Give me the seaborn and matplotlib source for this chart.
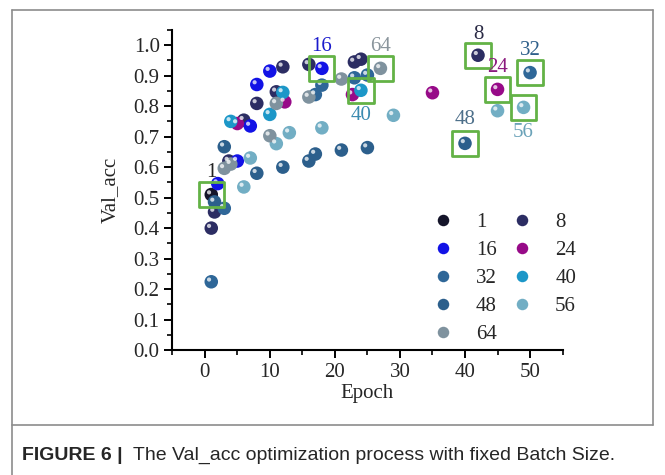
import pandas as pd
import matplotlib
matplotlib.use('Agg')
import matplotlib.pyplot as plt
import matplotlib.transforms as mtrans
from matplotlib.lines import Line2D
from matplotlib.ticker import MultipleLocator
import seaborn as sns

# Val_acc per epoch for each fixed batch size
epoch_1 = [1]
acc_1 = [0.51]
epoch_8 = [1, 1.5, 3.7, 6, 8, 11, 12, 16, 23, 24, 42]
acc_8 = [0.40, 0.453, 0.62, 0.754, 0.809, 0.847, 0.929, 0.937, 0.945, 0.954, 0.967]
epoch_16 = [2, 5, 7, 8, 10, 18]
acc_16 = [0.546, 0.62, 0.735, 0.871, 0.915, 0.924]
epoch_24 = [5, 12.3, 22.7, 35, 45]
acc_24 = [0.743, 0.814, 0.838, 0.844, 0.855]
epoch_32 = [1, 3, 17, 18, 23, 25, 50]
acc_32 = [0.224, 0.465, 0.838, 0.869, 0.893, 0.902, 0.91]
epoch_40 = [4, 10, 12, 24]
acc_40 = [0.75, 0.773, 0.845, 0.852]
epoch_48 = [1.5, 3, 8, 12, 16, 17, 21, 25, 40]
acc_48 = [0.486, 0.667, 0.58, 0.60, 0.62, 0.643, 0.656, 0.664, 0.678]
epoch_56 = [6, 7, 11, 13, 18, 29, 45, 49]
acc_56 = [0.535, 0.63, 0.677, 0.713, 0.729, 0.77, 0.785, 0.796]
epoch_64 = [3, 4, 10, 11, 16, 21, 27]
acc_64 = [0.596, 0.61, 0.703, 0.809, 0.83, 0.889, 0.924]

batch_sizes = [1, 8, 16, 24, 32, 40, 48, 56, 64]
epochs = [epoch_1, epoch_8, epoch_16, epoch_24, epoch_32, epoch_40, epoch_48, epoch_56, epoch_64]
accs = [acc_1, acc_8, acc_16, acc_24, acc_32, acc_40, acc_48, acc_56, acc_64]

colors = {1: '#15152a', 8: '#2c2d63', 16: '#1212e6', 24: '#970a88', 32: '#2f6798',
          40: '#1c97c8', 48: '#2c5f8c', 56: '#72aec4', 64: '#7f929e'}
label_colors = {1: '#222222', 8: '#2a2a45', 16: '#1a1acc', 24: '#8b1a7e', 32: '#2e5f8a',
                40: '#3a8bb0', 48: '#4d6f8a', 56: '#6aa2b8', 64: '#8a959c'}
label_offset = {1: 16, 8: 15, 16: 16, 24: 16, 32: 16, 40: -18, 48: 17, 56: -18, 64: 16}

frames = []
for b, e, a in zip(batch_sizes, epochs, accs):
    frames.append(pd.DataFrame({'Epoch': e, 'Val_acc': a, 'Batch': b}))
df = pd.concat(frames, ignore_index=True)

# best epoch of each batch size gets the green box
best = df.loc[df.groupby('Batch')['Val_acc'].idxmax()]

sns.set_style('ticks')
plt.rcParams['font.family'] = ['Liberation Serif', 'DejaVu Serif']

fig = plt.figure(figsize=(6.65, 4.75), dpi=100)
ax = fig.add_axes([0.259, 0.263, 0.587, 0.674])

hue_order = [1, 16, 32, 48, 64, 8, 24, 40, 56]
sns.scatterplot(data=df, x='Epoch', y='Val_acc', hue='Batch', hue_order=hue_order,
                palette=colors, s=95, edgecolor='none', ax=ax, zorder=3)

# small highlight so the dots look like spheres
shift = mtrans.ScaledTranslation(-1.6 / 72, 1.6 / 72, fig.dpi_scale_trans)
ax.scatter(df['Epoch'], df['Val_acc'], s=9, c='white', alpha=0.75,
           edgecolors='none', transform=ax.transData + shift, zorder=4)

ax.scatter(best['Epoch'], best['Val_acc'], marker='s', s=330, facecolors='none',
           edgecolors='#63b246', linewidths=2, zorder=5)
for _, row in best.iterrows():
    b = int(row['Batch'])
    ax.annotate(str(b), (row['Epoch'], row['Val_acc']), xytext=(0, label_offset[b]),
                textcoords='offset points', ha='center', va='center',
                fontsize=15, color=label_colors[b], zorder=6)

ax.set_xlim(-5, 55)
ax.set_ylim(0, 1.05)
ax.xaxis.set_major_locator(MultipleLocator(10))
ax.xaxis.set_minor_locator(MultipleLocator(5))
ax.yaxis.set_major_locator(MultipleLocator(0.1))
ax.yaxis.set_minor_locator(MultipleLocator(0.05))
ax.yaxis.set_major_formatter(matplotlib.ticker.FormatStrFormatter('%.1f'))
ax.tick_params(which='major', length=6, width=1.4, labelsize=15, color='black', pad=3)
ax.tick_params(which='minor', length=3.5, width=1.2, color='black')
for s in ['left', 'bottom']:
    ax.spines[s].set_linewidth(1.5)
    ax.spines[s].set_color('black')
sns.despine(ax=ax)

ax.set_xlabel('Epoch', fontsize=15, labelpad=2)
ax.set_ylabel('Val_acc', fontsize=15, labelpad=10)

sns.move_legend(ax, 'lower left', bbox_to_anchor=(0.618, -0.04), ncol=2, frameon=False,
                title=None, fontsize=15, markerscale=0.85, handlelength=1.0,
                handletextpad=1.1, columnspacing=0.7, labelspacing=0.4)

# grey panel frame and caption
line_kw = dict(color='#8c8c8c', linewidth=1.2, transform=fig.transFigure)
fig.add_artist(Line2D([0.018, 0.982], [0.979, 0.979], **line_kw))
fig.add_artist(Line2D([0.018, 0.982], [0.105, 0.105], **line_kw))
fig.add_artist(Line2D([0.982, 0.982], [0.105, 0.979], **line_kw))
fig.add_artist(Line2D([0.018, 0.018], [0.0, 0.979], **line_kw))

fig.text(0.033, 0.042, 'FIGURE 6 |', fontsize=14, fontweight='bold',
         family='Liberation Sans', va='center', ha='left')
fig.text(0.2, 0.042, 'The Val_acc optimization process with fixed Batch Size.',
         fontsize=14, family='Liberation Sans', va='center', ha='left')

fig.savefig('out.png', dpi=100)
